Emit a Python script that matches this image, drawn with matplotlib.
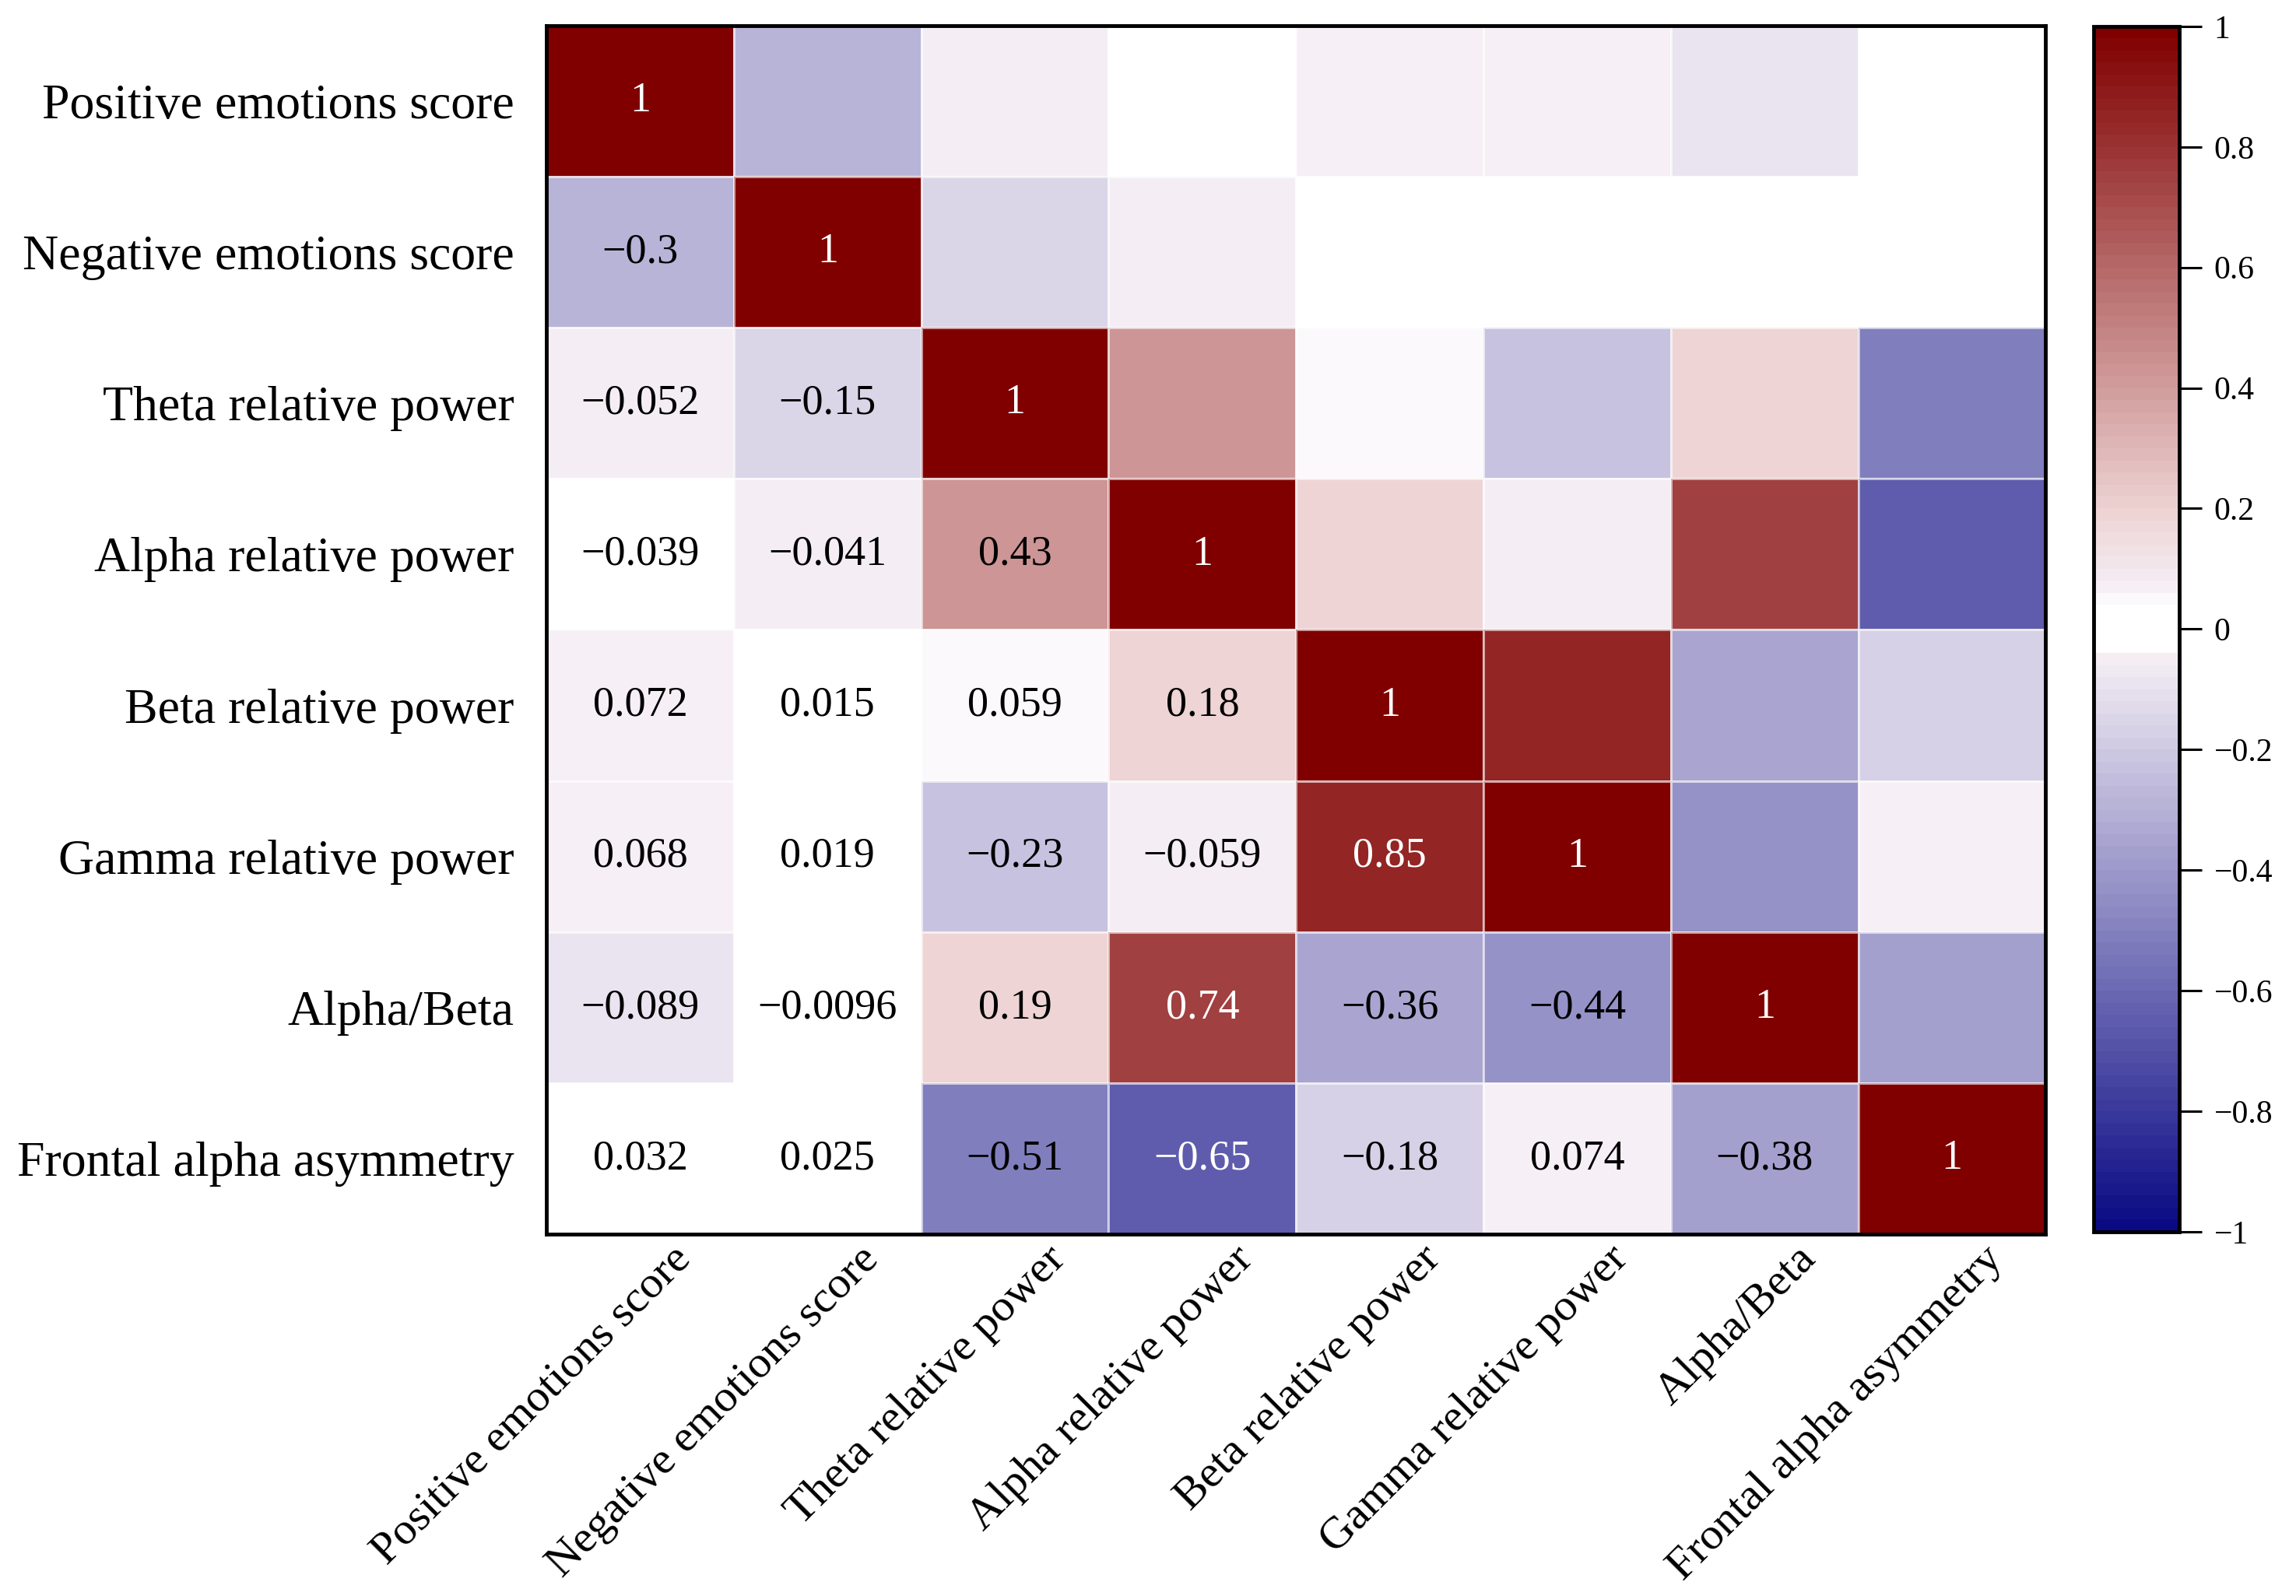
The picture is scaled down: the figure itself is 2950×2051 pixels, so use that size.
import numpy as np
import matplotlib
matplotlib.use('Agg')
import matplotlib.pyplot as plt
from matplotlib.colors import LinearSegmentedColormap
from matplotlib.transforms import ScaledTranslation

plt.rcParams['font.family'] = ['Liberation Serif', 'DejaVu Serif']

variables = ['Positive emotions score', 'Negative emotions score',
             'Theta relative power', 'Alpha relative power',
             'Beta relative power', 'Gamma relative power',
             'Alpha/Beta', 'Frontal alpha asymmetry']

# lower triangle of the correlation matrix, row by row
lower = [
    [1],
    [-0.3, 1],
    [-0.052, -0.15, 1],
    [-0.039, -0.041, 0.43, 1],
    [0.072, 0.015, 0.059, 0.18, 1],
    [0.068, 0.019, -0.23, -0.059, 0.85, 1],
    [-0.089, -0.0096, 0.19, 0.74, -0.36, -0.44, 1],
    [0.032, 0.025, -0.51, -0.65, -0.18, 0.074, -0.38, 1],
]

cbar_ticks = [-1, -0.8, -0.6, -0.4, -0.2, 0, 0.2, 0.4, 0.6, 0.8, 1]

n = len(variables)
corr = np.zeros((n, n))
for i, row in enumerate(lower):
    for j, v in enumerate(row):
        corr[i, j] = v
        corr[j, i] = v

# blue - white - red with a white band round zero and a lavender tint just past it
nodes = [(-1.0, '#0a0a84'), (-0.045, '#f5eff5'), (-0.03, '#ffffff'),
         (0.04, '#ffffff'), (0.06, '#f8f3f8'), (0.08, '#f4ecf2'),
         (0.19, '#eed5d5'), (1.0, '#800000')]
cmap = LinearSegmentedColormap.from_list(
    'corr_map', [((v + 1) / 2, c) for v, c in nodes], N=100)

fig = plt.figure(figsize=(29.5, 20.51), dpi=100)
ax = fig.add_axes([0.238, 0.2267, 0.653, 0.7573])
cax = fig.add_axes([0.9119, 0.2282, 0.0373, 0.7553])

mesh = ax.pcolormesh(corr, cmap=cmap, vmin=-1, vmax=1,
                     edgecolors=(1, 1, 1, 0.6), linewidth=1)
ax.set_xlim(0, n)
ax.set_ylim(n, 0)

for i, row in enumerate(lower):
    for j, v in enumerate(row):
        txt = '{:g}'.format(v).replace('-', '\u2212')
        col = 'white' if abs(v) > 0.6 else 'black'
        ax.text(j + 0.5, i + 0.5, txt, ha='center', va='center',
                fontsize=39, color=col)

ax.set_yticks(np.arange(n) + 0.5)
ax.set_yticklabels(variables, fontsize=46)
ax.set_xticks(np.arange(n) + 0.5)
ax.set_xticklabels(variables, fontsize=42, rotation=45,
                   ha='right', va='top', rotation_mode='anchor')
ax.tick_params(axis='both', length=0)
ax.tick_params(axis='y', pad=30)
ax.tick_params(axis='x', pad=4)
offset = ScaledTranslation(0.39, 0, fig.dpi_scale_trans)
for lab in ax.get_xticklabels():
    lab.set_transform(lab.get_transform() + offset)

for sp in ax.spines.values():
    sp.set_linewidth(3.5)
    sp.set_color('black')

cb = fig.colorbar(mesh, cax=cax, ticks=cbar_ticks)
cb.outline.set_linewidth(3.5)
cb.ax.tick_params(labelsize=30, length=21, width=2.2, pad=11)
cb.ax.set_yticklabels(['{:g}'.format(t).replace('-', '\u2212') for t in cbar_ticks])

fig.savefig('out.png', dpi=100, facecolor='white')
